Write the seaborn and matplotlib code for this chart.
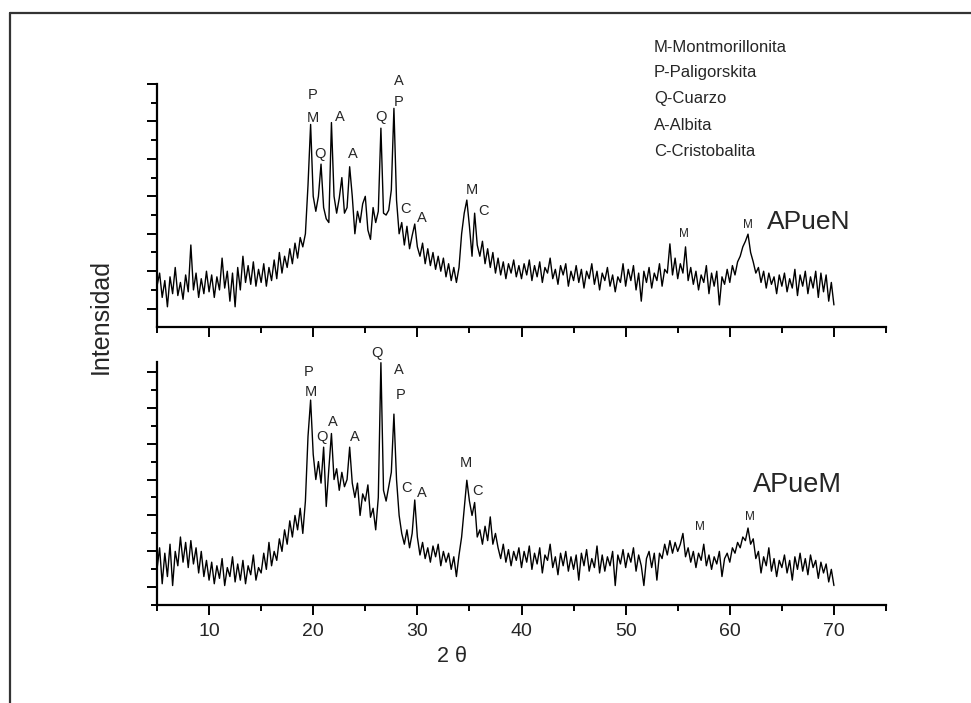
import numpy as np
import pandas as pd
import matplotlib
matplotlib.use("Agg")
import matplotlib.pyplot as plt
from matplotlib.lines import Line2D
from matplotlib.ticker import MultipleLocator
import seaborn as sns

# ---------------- data ----------------
two_theta = np.round(np.arange(5.0, 70.001, 0.25), 2)

apuen = [
    60, 95, 30, 75, 5, 85, 40, 110, 35, 70, 25, 90, 45, 170, 50, 95, 30, 80, 40, 100,
    45, 90, 30, 85, 50, 135, 55, 100, 20, 95, 5, 110, 50, 140, 70, 115, 65, 125, 60, 105,
    70, 120, 60, 110, 75, 130, 80, 150, 95, 140, 110, 160, 120, 175, 135, 190, 165, 200, 330, 492,
    300, 260, 300, 386, 270, 240, 230, 497, 300, 255, 295, 350, 255, 270, 379, 300, 200, 260, 230, 280,
    300, 210, 185, 270, 230, 260, 482, 255, 250, 263, 317, 535, 290, 200, 230, 170, 220, 160, 195, 226,
    165, 140, 175, 120, 160, 115, 150, 105, 140, 100, 135, 85, 120, 75, 110, 70, 110, 200, 255, 290,
    220, 140, 255, 170, 140, 180, 120, 160, 110, 150, 95, 135, 90, 125, 80, 120, 95, 130, 85, 115,
    80, 120, 90, 130, 75, 115, 85, 125, 70, 110, 95, 135, 80, 105, 65, 115, 90, 120, 60, 100,
    75, 115, 70, 105, 55, 100, 80, 120, 65, 100, 50, 95, 75, 110, 60, 90, 45, 85, 70, 120,
    60, 105, 75, 115, 50, 95, 20, 100, 70, 110, 55, 95, 75, 120, 60, 105, 95, 173, 90, 135,
    80, 120, 95, 165, 75, 110, 65, 100, 50, 90, 70, 115, 40, 95, 60, 100, 10, 85, 65, 105,
    70, 115, 90, 125, 140, 165, 180, 199, 150, 125, 95, 110, 70, 100, 55, 95, 65, 85, 40, 90,
    60, 95, 45, 80, 55, 105, 35, 90, 60, 100, 40, 85, 55, 100, 30, 95, 45, 90, 20, 70, 10,
]

apuem = [
    50, 110, 10, 95, 30, 120, 5, 100, 60, 140, 70, 125, 55, 130, 65, 110, 40, 100, 30, 75,
    20, 70, 10, 60, 25, 80, 5, 55, 30, 85, 15, 65, 20, 75, 10, 60, 35, 90, 20, 55,
    40, 95, 50, 125, 60, 100, 75, 135, 100, 160, 120, 185, 140, 200, 160, 220, 150, 240, 420, 521,
    370, 300, 350, 290, 390, 225, 330, 428, 300, 330, 270, 320, 280, 300, 390, 290, 250, 290, 200, 260,
    240, 285, 195, 220, 160, 250, 625, 270, 240, 280, 320, 482, 300, 200, 150, 120, 160, 110, 150, 243,
    140, 90, 125, 80, 110, 70, 115, 85, 120, 60, 100, 70, 95, 50, 85, 30, 90, 140, 220, 298,
    240, 200, 236, 140, 160, 120, 170, 130, 196, 120, 150, 110, 80, 120, 70, 105, 60, 100, 75, 110,
    55, 100, 70, 115, 50, 95, 65, 110, 40, 90, 75, 120, 55, 85, 35, 95, 60, 100, 45, 85,
    50, 90, 20, 95, 60, 105, 45, 80, 55, 115, 40, 90, 45, 85, 60, 100, 5, 90, 65, 105,
    55, 95, 70, 110, 45, 90, 60, 5, 80, 100, 55, 95, 20, 95, 80, 120, 90, 130, 95, 125,
    100, 120, 150, 85, 110, 70, 100, 55, 95, 75, 120, 60, 90, 50, 85, 65, 100, 30, 80, 95,
    70, 110, 95, 125, 110, 140, 130, 165, 120, 135, 80, 100, 40, 85, 60, 110, 45, 80, 30, 75,
    55, 90, 40, 75, 20, 85, 50, 95, 45, 80, 35, 90, 55, 75, 25, 70, 40, 65, 15, 50, 5,
]

legend_lines = ["M-Montmorillonita", "P-Paligorskita", "Q-Cuarzo", "A-Albita", "C-Cristobalita"]
sample_names = ["APueN", "APueM"]

top_labels = ["P", "M", "Q", "A", "A", "Q", "A", "P", "C", "A", "M", "C"]
top_label_x = [19.95, 19.95, 20.65, 22.57, 23.79, 26.48, 28.27, 28.17, 28.88, 30.42, 35.22, 36.33]
top_label_y = [570, 510, 413, 513, 413, 513, 608, 553, 266, 243, 317, 261]
top_small = ["M", "M"]
top_small_x = [55.6, 61.78]
top_small_y = [200, 224]

bot_labels = ["P", "M", "Q", "A", "A", "Q", "A", "P", "C", "A", "M", "C"]
bot_label_x = [19.53, 19.79, 20.87, 21.93, 23.95, 26.15, 28.2, 28.43, 28.98, 30.42, 34.64, 35.75]
bot_label_y = [600, 544, 419, 461, 419, 651, 605, 535, 277, 262, 347, 268]
bot_small = ["M", "M"]
bot_small_x = [57.14, 61.94]
bot_small_y = [169, 196]

xticks_major = [10, 20, 30, 40, 50, 60, 70]

# ---------------- style ----------------
sns.set_theme(style="ticks")
plt.rcParams["font.family"] = ["Liberation Sans", "DejaVu Sans"]
plt.rcParams["axes.linewidth"] = 1.6

W, H = 971, 703
fig = plt.figure(figsize=(W / 100, H / 100), dpi=100)
fig.patch.set_facecolor("white")

left = 157 / W
width = (886 - 157) / W
ax_top = fig.add_axes([left, 1 - 327 / H, width, (327 - 84) / H])
ax_bot = fig.add_axes([left, 1 - 605.3 / H, width, (605.3 - 362) / H])

df_top = pd.DataFrame({"two_theta": two_theta, "I": apuen})
df_bot = pd.DataFrame({"two_theta": two_theta, "I": apuem})

sns.lineplot(data=df_top, x="two_theta", y="I", ax=ax_top, color="black",
             linewidth=1.0, estimator=None, sort=False)
sns.lineplot(data=df_bot, x="two_theta", y="I", ax=ax_bot, color="black",
             linewidth=1.0, estimator=None, sort=False)

ax_top.set_ylim(-49, 600)
ax_bot.set_ylim(-50, 627)

for ax in (ax_top, ax_bot):
    ax.set_xlim(5, 75)
    ax.set_facecolor("white")
    for s in ("top", "right"):
        ax.spines[s].set_visible(False)
    ax.spines["left"].set_color("black")
    ax.spines["bottom"].set_color("black")
    ax.set_xlabel("")
    ax.set_ylabel("")
    ax.xaxis.set_major_locator(MultipleLocator(10))
    ax.xaxis.set_minor_locator(MultipleLocator(5))
    ax.yaxis.set_major_locator(MultipleLocator(100))
    ax.yaxis.set_minor_locator(MultipleLocator(50))
    ax.tick_params(axis="both", which="major", direction="out", length=7.5, width=1.4,
                   color="black")
    ax.tick_params(axis="both", which="minor", direction="out", length=4.3, width=1.4,
                   color="black")
    ax.tick_params(axis="y", which="both", labelleft=False)

ax_top.tick_params(axis="x", which="both", labelbottom=False)
ax_bot.set_xticks(xticks_major)
ax_bot.set_xticklabels([str(v) for v in xticks_major])
ax_bot.tick_params(axis="x", which="major", labelsize=14, pad=5)

# peak labels
for t, x, y in zip(top_labels, top_label_x, top_label_y):
    ax_top.text(x, y, t, ha="center", va="center", fontsize=10.5, clip_on=False)
for t, x, y in zip(top_small, top_small_x, top_small_y):
    ax_top.text(x, y, t, ha="center", va="center", fontsize=8.5, clip_on=False)
for t, x, y in zip(bot_labels, bot_label_x, bot_label_y):
    ax_bot.text(x, y, t, ha="center", va="center", fontsize=10.5, clip_on=False)
for t, x, y in zip(bot_small, bot_small_x, bot_small_y):
    ax_bot.text(x, y, t, ha="center", va="center", fontsize=8.5, clip_on=False)

ax_top.text(63.57, 231, sample_names[0], ha="left", va="center", fontsize=19)
ax_bot.text(62.23, 285, sample_names[1], ha="left", va="center", fontsize=19.5)

# legend block
leg_y = [47, 73, 99, 125, 152]
for txt, yy in zip(legend_lines, leg_y):
    fig.text(654 / W, 1 - yy / H, txt, ha="left", va="center", fontsize=12)

# axis titles
fig.text(101 / W, 1 - 316 / H, "Intensidad", rotation=90, ha="center", va="center",
         fontsize=18)
fig.text(452 / W, 1 - 657 / H, "2 θ", ha="center", va="center", fontsize=15.5)

# outer frame (left and top edges)
fig.add_artist(Line2D([9.5 / W, 9.5 / W], [0, 1 - 13 / H], transform=fig.transFigure,
                      color="#333333", linewidth=1.6))
fig.add_artist(Line2D([9.5 / W, 1], [1 - 13 / H, 1 - 13 / H], transform=fig.transFigure,
                      color="#333333", linewidth=1.6))

fig.savefig("out.png", dpi=100, facecolor="white")
